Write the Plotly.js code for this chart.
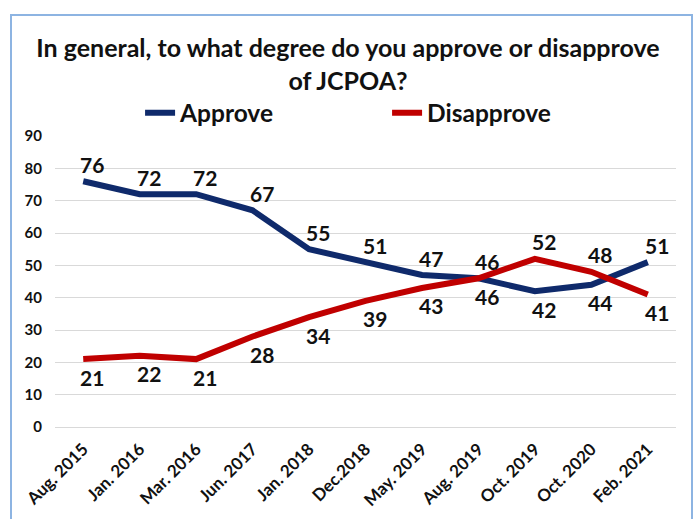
<!DOCTYPE html>
<html>
<head>
<meta charset="utf-8">
<script src="https://cdn.plot.ly/plotly-3.0.1.min.js"></script>
<style>
  html, body { margin: 0; padding: 0; background: #fff; }
  #wrap { position: relative; width: 696px; height: 519px; }
  #chart { position: absolute; left: 0; top: 0; width: 696px; height: 519px; }
  #frame { position: absolute; left: 10px; top: 14px; width: 683px; height: 520px;
           border: 2px solid #8DB4E2; pointer-events: none; box-sizing: border-box; }
</style>
</head>
<body>
<div id="wrap">
  <div id="chart"></div>
  <div id="frame"></div>
</div>
<script>
const categories = ["Aug. 2015", "Jan. 2016", "Mar. 2016", "Jun. 2017", "Jan. 2018", "Dec.2018",
                    "May. 2019", "Aug. 2019", "Oct. 2019", "Oct. 2020", "Feb. 2021"];
const approve    = [76, 72, 72, 67, 55, 51, 47, 46, 42, 44, 51];
const disapprove = [21, 22, 21, 28, 34, 39, 43, 46, 52, 48, 41];
const yTicks     = [0, 10, 20, 30, 40, 50, 60, 70, 80, 90];

// label side for each point: 1 = above the line, -1 = below
const approveSide    = [1, 1, 1, 1, 1, 1, 1, 1, -1, -1, 1];
const disapproveSide = [-1, -1, -1, -1, -1, -1, -1, -1, 1, 1, -1];

const FONT = "Lato, 'Open Sans', sans-serif";
const labelFont = {family: FONT, size: 21, color: "#111", weight: 700};

const traces = [
  {
    x: categories, y: approve, name: "Approve", type: "scatter", mode: "lines",
    line: {color: "#0F2A6B", width: 6}, hoverinfo: "skip"
  },
  {
    x: categories, y: disapprove, name: "Disapprove", type: "scatter", mode: "lines",
    line: {color: "#C00000", width: 6}, hoverinfo: "skip"
  }
];

function labels(values, sides) {
  return values.map((v, i) => ({
    x: categories[i], y: v, xref: "x", yref: "y",
    text: String(v), showarrow: false, font: labelFont,
    xanchor: "center", yanchor: "middle",
    xshift: 9, yshift: sides[i] > 0 ? 17 : -18
  }));
}

const layout = {
  width: 696, height: 519,
  margin: {l: 55, r: 20, t: 136, b: 92},
  paper_bgcolor: "#fff", plot_bgcolor: "#fff",
  title: {
    text: "In general, to what degree do you approve or disapprove<br>of JCPOA?",
    font: {family: FONT, size: 25, color: "#111", weight: 700},
    x: 0.5, xanchor: "center", y: 0.8896, yanchor: "middle"
  },
  showlegend: true,
  legend: {
    orientation: "h", x: 0.137, xanchor: "left", y: 1.08, yanchor: "middle",
    font: {family: FONT, size: 24.5, color: "#111", weight: 700},
    entrywidth: 202, bgcolor: "rgba(0,0,0,0)"
  },
  annotations: labels(approve, approveSide).concat(labels(disapprove, disapproveSide)),
  xaxis: {
    type: "category", range: [-0.5, 10.5],
    tickangle: -45, showgrid: false, showline: false, ticks: "",
    tickfont: {family: FONT, size: 17, color: "#111", weight: 700},
    ticklabelstandoff: 8,
    fixedrange: true
  },
  yaxis: {
    range: [0, 90], tickvals: yTicks, ticktext: yTicks.map(String),
    showgrid: true, gridcolor: "#D9D9D9", gridwidth: 1,
    zeroline: true, zerolinecolor: "#D9D9D9", zerolinewidth: 1,
    showline: false, ticks: "",
    tickfont: {family: FONT, size: 15, color: "#111", weight: 700},
    ticklabelstandoff: 12,
    fixedrange: true
  }
};

Plotly.newPlot("chart", traces, layout, {displayModeBar: false, staticPlot: true});
</script>
</body>
</html>
